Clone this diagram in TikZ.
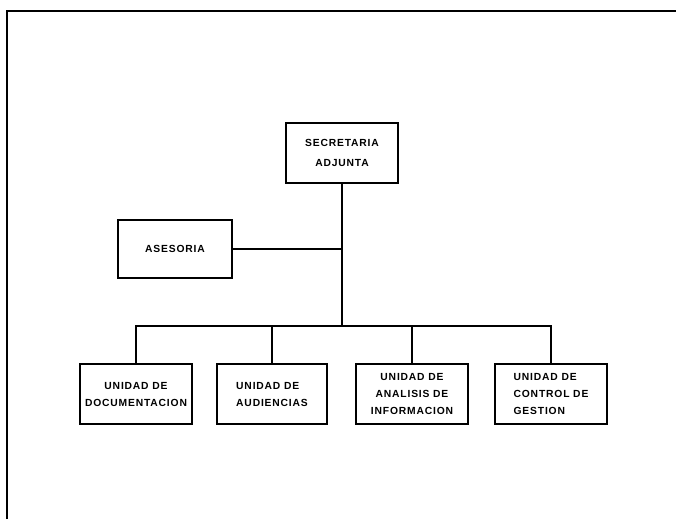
\documentclass[tikz,border=0pt]{standalone}
\usepackage{fontspec}
\setmainfont{Liberation Sans}
\newfontfamily\orgfont[LetterSpace=8]{Liberation Sans}
\begin{document}
\begin{tikzpicture}[x=0.03cm,y=-0.03cm,
  line width=1.4pt,
  unitbox/.style={draw, rectangle, inner sep=0pt, minimum width=3.36cm,
    minimum height=1.8cm, font=\orgfont\bfseries\fontsize{8.8}{14.5}\selectfont},
  link/.style={draw, line width=1.4pt}]
\useasboundingbox (0,0) rectangle (676,519);

% page frame (top and left edges)
\coordinate (fb) at (7,519);
\coordinate (ft) at (7,11);
\coordinate (fr) at (676,11);
\draw[line width=1.5pt] (fb) -- (ft) -- (fr);

% head
\node[unitbox, align=center,
  font=\orgfont\bfseries\fontsize{8.8}{17}\selectfont] (sec) at (342,153) {SECRETARIA\\ADJUNTA};

% staff unit
\node[unitbox, minimum width=3.42cm, minimum height=1.74cm] (ase) at (175,249) {ASESORIA};

% subordinate units
\node[unitbox, align=center] (u1) at (136,394) {UNIDAD DE\\DOCUMENTACION};
\node[unitbox, align=left, minimum width=3.3cm] (u2) at (272,394) {UNIDAD DE\\AUDIENCIAS};
\node[unitbox, align=center] (u3) at (412,394) {UNIDAD DE\\ANALISIS DE\\INFORMACION};
\node[unitbox, align=left] (u4) at (551,394) {UNIDAD DE\\CONTROL DE\\GESTION};

% connectors
\coordinate (bus) at (342,326);
\draw[link] (sec.south) -- (bus);
\draw[link] (ase.east) -- (ase.east -| sec.south);
\draw[link] (u1.north) |- (bus);
\draw[link] (u4.north) |- (bus);
\draw[link] (u2.north) -- (u2.north |- bus);
\draw[link] (u3.north) -- (u3.north |- bus);
\end{tikzpicture}
\end{document}
